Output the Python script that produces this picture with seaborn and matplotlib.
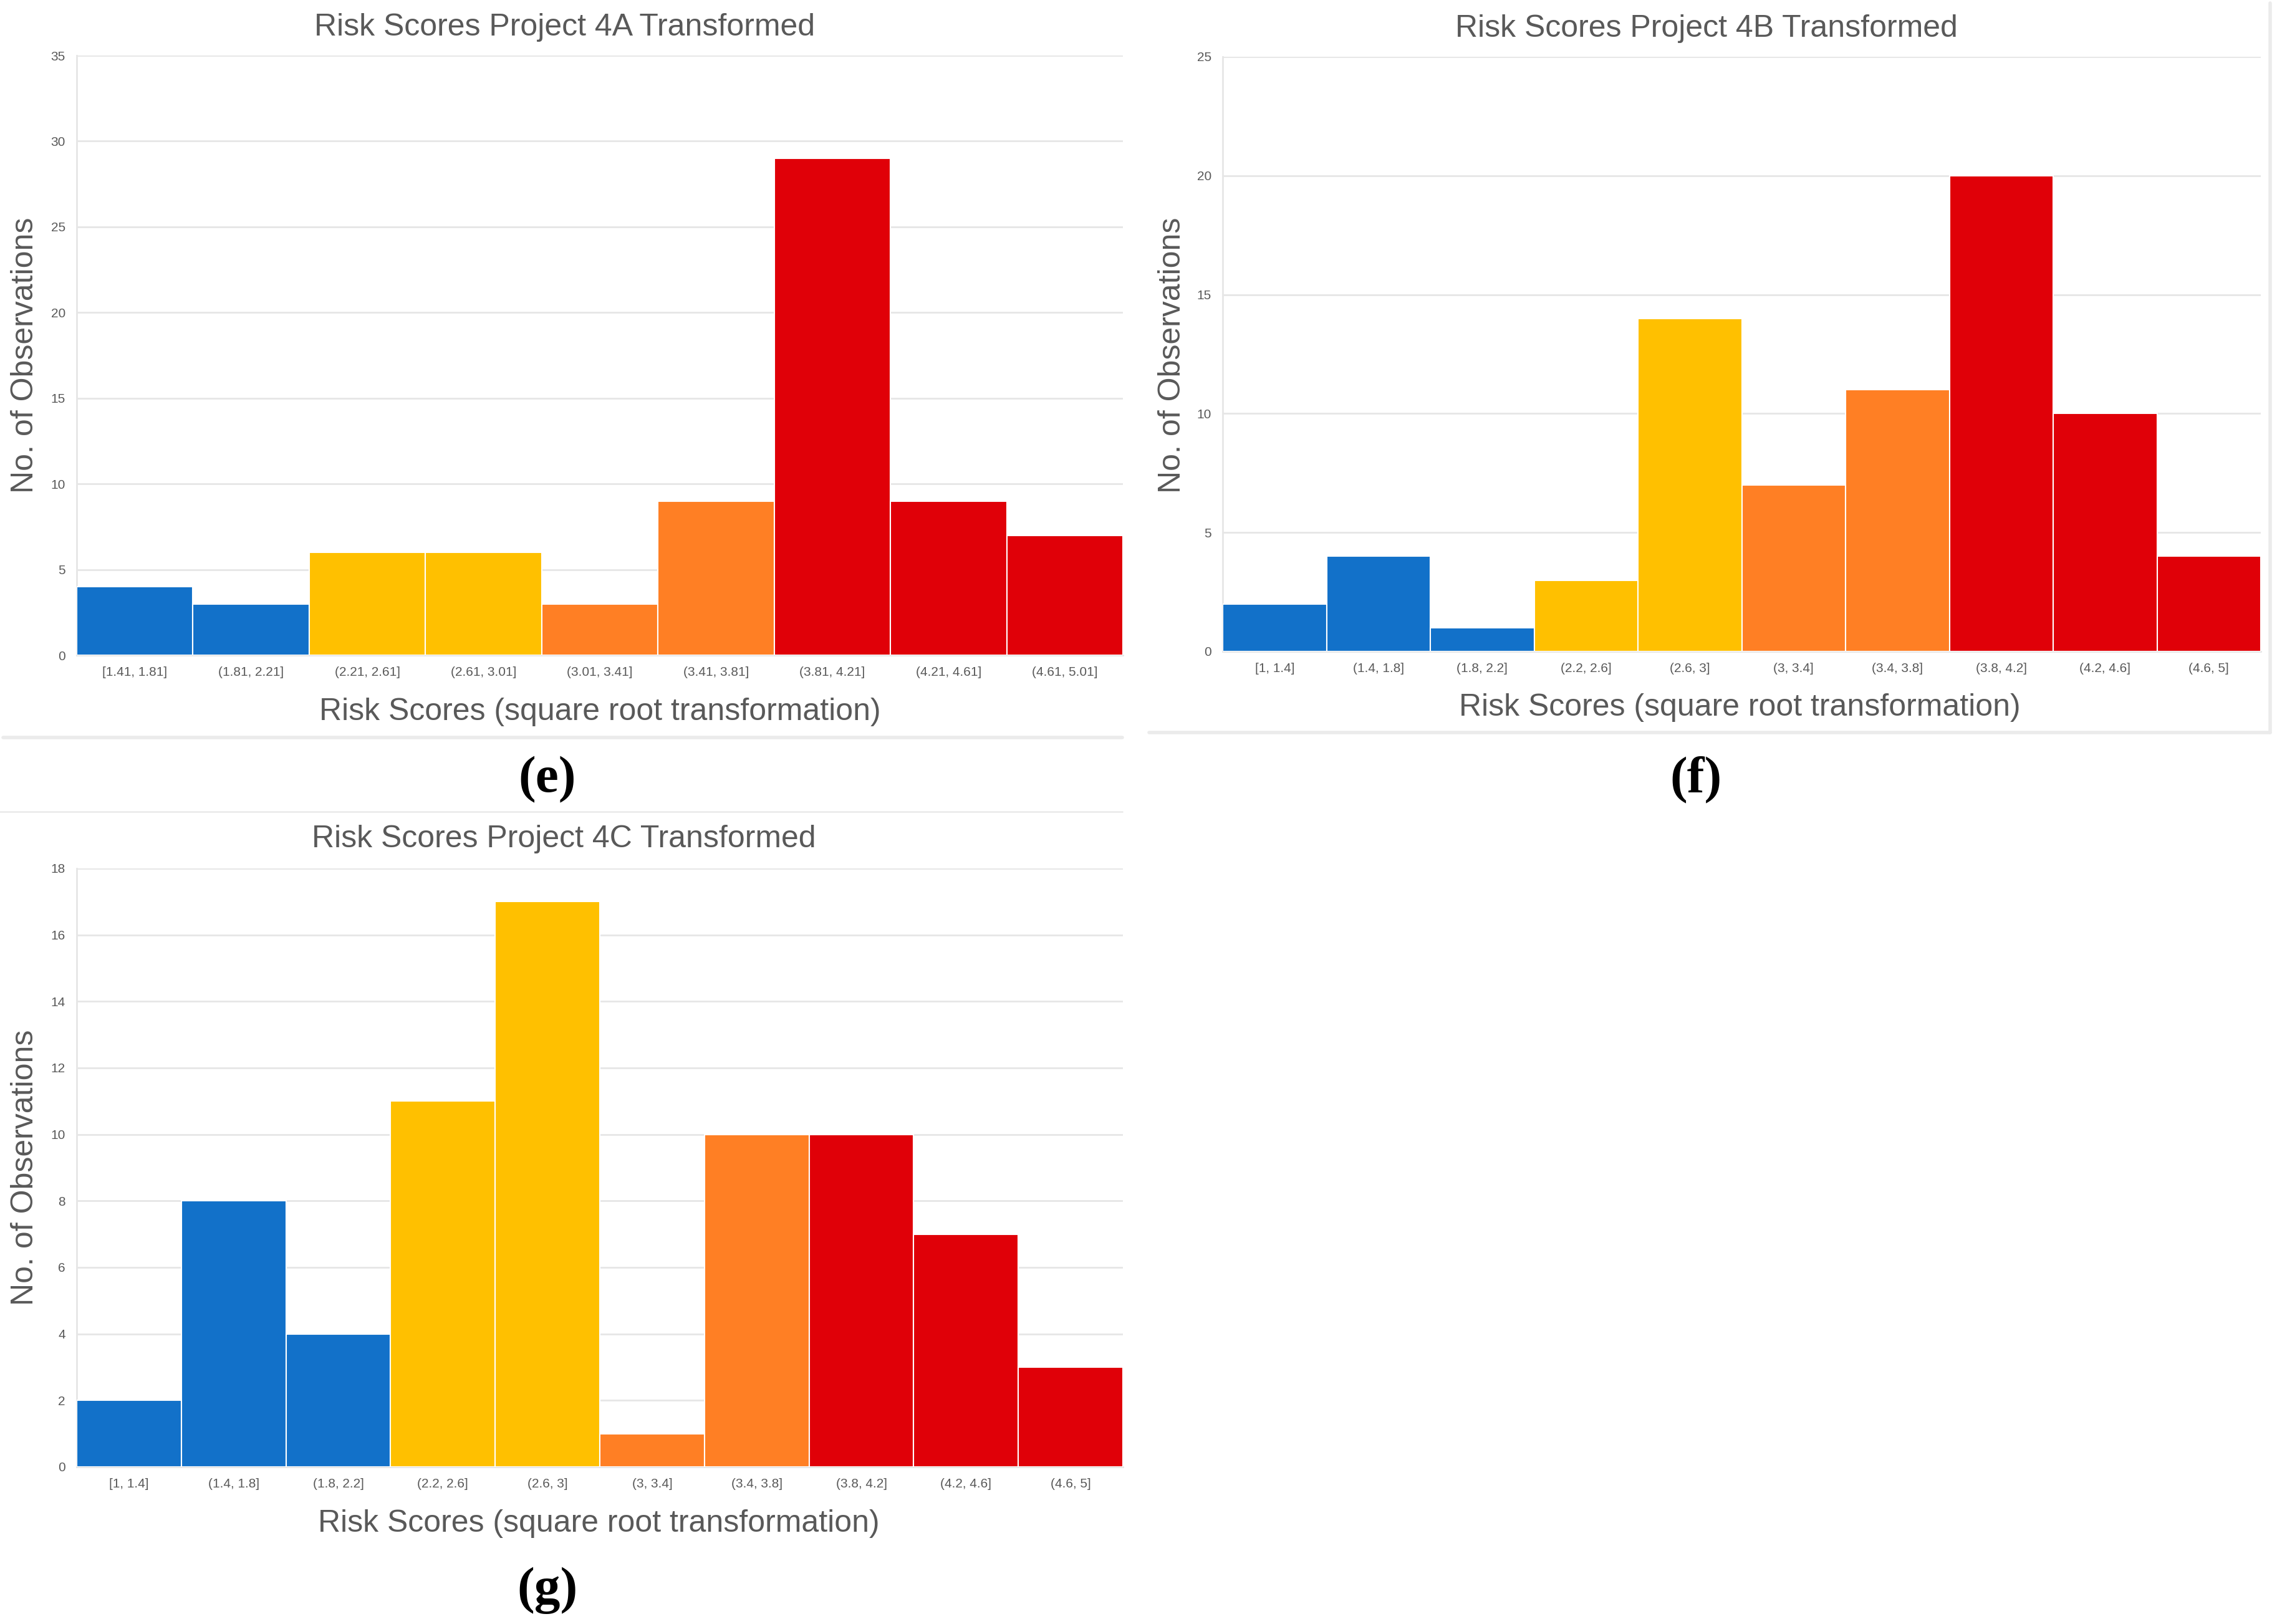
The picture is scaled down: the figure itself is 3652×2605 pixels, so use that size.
import matplotlib
matplotlib.use('Agg')
import matplotlib.pyplot as plt
from matplotlib.lines import Line2D
import seaborn as sns

# data
bins_4a = ['[1.41, 1.81]', '(1.81, 2.21]', '(2.21, 2.61]', '(2.61, 3.01]', '(3.01, 3.41]',
           '(3.41, 3.81]', '(3.81, 4.21]', '(4.21, 4.61]', '(4.61, 5.01]']
counts_4a = [4, 3, 6, 6, 3, 9, 29, 9, 7]
bins_4bc = ['[1, 1.4]', '(1.4, 1.8]', '(1.8, 2.2]', '(2.2, 2.6]', '(2.6, 3]',
            '(3, 3.4]', '(3.4, 3.8]', '(3.8, 4.2]', '(4.2, 4.6]', '(4.6, 5]']
counts_4b = [2, 4, 1, 3, 14, 7, 11, 20, 10, 4]
counts_4c = [2, 8, 4, 11, 17, 1, 10, 10, 7, 3]

BLUE, YELLOW, ORANGE, RED = '#1271C9', '#FFC000', '#FF7F24', '#E00008'
colors_4a = [BLUE, BLUE, YELLOW, YELLOW, ORANGE, ORANGE, RED, RED, RED]
colors_4bc = [BLUE, BLUE, BLUE, YELLOW, YELLOW, ORANGE, ORANGE, RED, RED, RED]

W, H = 3652, 2605
GREY = '#595959'
LINE = '#e6e6e6'

sns.set_style('white')
plt.rcParams['font.family'] = ['Liberation Sans', 'DejaVu Sans']

fig = plt.figure(figsize=(W / 100, H / 100), dpi=100)


def rect(x0, y0, x1, y1):
    return [x0 / W, 1 - y1 / H, (x1 - x0) / W, (y1 - y0) / H]


def ftext(x, y, s, **kw):
    fig.text(x / W, 1 - y / H, s, ha='center', va='center', **kw)


def hist_panel(box, cats, vals, cols, ymax, step):
    ax = fig.add_axes(box)
    sns.barplot(x=cats, y=vals, hue=cats, palette=cols, legend=False, width=1.0,
                edgecolor='white', linewidth=1.5, saturation=1, ax=ax, zorder=3)
    ax.set_xlim(-0.5, len(cats) - 0.5)
    ax.set_ylim(0, ymax)
    ax.set_yticks(range(0, ymax + 1, step))
    ax.grid(axis='y', color=LINE, linewidth=2, zorder=0)
    for s in ['top', 'right']:
        ax.spines[s].set_visible(False)
    for s in ['left', 'bottom']:
        ax.spines[s].set_color(LINE)
        ax.spines[s].set_linewidth(2)
    ax.tick_params(axis='both', length=0, pad=13, labelsize=15, labelcolor=GREY)
    ax.set_xlabel('')
    ax.set_ylabel('')
    return ax


hist_panel(rect(123, 89, 1801, 1051), bins_4a, counts_4a, colors_4a, 35, 5)
hist_panel(rect(1961, 91, 3626, 1045), bins_4bc, counts_4b, colors_4bc, 25, 5)
hist_panel(rect(123, 1393, 1801, 2353), bins_4bc, counts_4c, colors_4bc, 18, 2)

# titles, axis labels
ftext(906, 44, 'Risk Scores Project 4A Transformed', fontsize=36, color=GREY)
ftext(2737, 46, 'Risk Scores Project 4B Transformed', fontsize=36, color=GREY)
ftext(904, 1346, 'Risk Scores Project 4C Transformed', fontsize=36, color=GREY)

ftext(962, 1142, 'Risk Scores (square root transformation)', fontsize=36, color=GREY)
ftext(2790, 1135, 'Risk Scores (square root transformation)', fontsize=36, color=GREY)
ftext(960, 2444, 'Risk Scores (square root transformation)', fontsize=36, color=GREY)

ftext(40, 570, 'No. of Observations', fontsize=36, color=GREY, rotation=90)
ftext(1880, 570, 'No. of Observations', fontsize=36, color=GREY, rotation=90)
ftext(40, 1873, 'No. of Observations', fontsize=36, color=GREY, rotation=90)

# panel letters
for x, y, s in [(878, 1251, '(e)'), (2720, 1251, '(f)'), (878, 2551, '(g)')]:
    ftext(x, y, s, fontsize=60, fontweight='bold', family='Liberation Serif', color='black')

# frame lines around the pasted charts
for xs, ys, lw in [((5, 1800), (1183, 1183), 4), ((1843, 3641), (1175, 1175), 4),
                   ((3641, 3641), (5, 1175), 4), ((0, 1800), (1302, 1302), 2)]:
    fig.add_artist(Line2D([x / W for x in xs], [1 - y / H for y in ys],
                          transform=fig.transFigure, color='#ebebeb', linewidth=lw))

fig.savefig('out.png', dpi=100, facecolor='white')
